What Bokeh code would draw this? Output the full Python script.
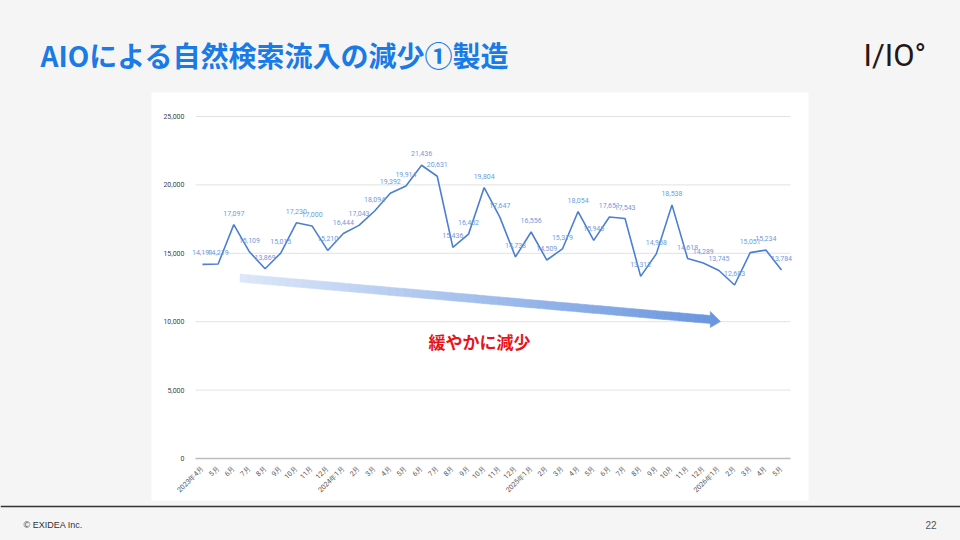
import math
from bokeh.plotting import figure
from bokeh.models import (Range1d, FixedTicker, NumeralTickFormatter, LinearAxis,
                          GlobalInlineStyleSheet)
from bokeh.core.properties import value
from bokeh.embed import file_html
from bokeh.resources import INLINE

# ---------------- data ----------------
months = ["2023年4月", "5月", "6月", "7月", "8月", "9月", "10月", "11月", "12月",
          "2024年1月", "2月", "3月", "4月", "5月", "6月", "7月", "8月", "9月", "10月", "11月", "12月",
          "2025年1月", "2月", "3月", "4月", "5月", "6月", "7月", "8月", "9月", "10月", "11月", "12月",
          "2026年1月", "2月", "3月", "4月", "5月"]
sessions = [14191, 14219, 17097, 15109, 13869, 15015, 17230, 17000, 15210,
            16444, 17043, 18094, 19392, 19914, 21436, 20631, 15436, 16402, 19804, 17647, 14738,
            16556, 14509, 15319, 18054, 15945, 17651, 17543, 13312, 14958, 18538, 14618, 14289,
            13745, 12683, 15051, 15234, 13784]
y_ticks = [0, 5000, 10000, 15000, 20000, 25000]
title_text = "AIOによる自然検索流入の減少①製造"
note_text = "緩やかに減少"
logo_text = "I/IO°"
footer_left = "© EXIDEA Inc."
page_no = "22"

# trend arrow (annotation) in chart data units
arrow_x0, arrow_y0 = 2.4, 13190
arrow_x1, arrow_y1 = 32.45, 10158
arrow_tip_x, arrow_tip_y = 33.1, 10012
arrow_c0 = (0xdd, 0xe8, 0xf9)
arrow_c1 = (0x6a, 0x96, 0xdf)

xs = list(range(len(months)))
labels = [f"{v:,}" for v in sessions]

# ---------------- layout (page pixels) ----------------
W, H = 960, 540
CH_L, CH_R, CH_T, CH_B = 195, 790, 116, 458      # chart plot area
X_LO, X_HI = -0.447, 37.575                      # chart x range
Y_LO, Y_HI = 0, 25000                            # chart y range

kx = (CH_R - CH_L) / (X_HI - X_LO)
ky = (CH_B - CH_T) / (Y_HI - Y_LO)
cx = Range1d(X_LO - CH_L / kx, X_HI + (W - CH_R) / kx)
cy = Range1d(Y_LO - (H - CH_B) / ky, Y_HI + CH_T / ky)

p = figure(width=W, height=H, output_backend="svg", toolbar_location=None,
           x_range=Range1d(0, W), y_range=Range1d(H, 0),
           x_axis_type=None, y_axis_type=None, min_border=0)
p.extra_x_ranges = {"cx": cx}
p.extra_y_ranges = {"cy": cy}
p.border_fill_color = "#f5f5f5"
p.background_fill_color = "#f5f5f5"
p.outline_line_color = None
p.xgrid.visible = False
p.ygrid.visible = False
p.stylesheets = [GlobalInlineStyleSheet(css="html, body { background: #f5f5f5; }")]

# white chart panel & footer rule
p.quad(left=151, right=808, top=92, bottom=500, fill_color="white", line_color=None)
p.quad(left=0, right=W, top=505.3, bottom=506.8, fill_color="#333333", line_color=None)

# horizontal grid lines
p.segment(x0=[X_LO] * len(y_ticks), x1=[X_HI] * len(y_ticks), y0=y_ticks, y1=y_ticks,
          line_color="#e2e2e2", line_width=1, x_range_name="cx", y_range_name="cy")

# axes
yax = LinearAxis(x_range_name="cx", y_range_name="cy", fixed_location=X_LO,
                 ticker=FixedTicker(ticks=y_ticks), formatter=NumeralTickFormatter(format="0,0"),
                 axis_line_color=None, major_tick_line_color=None, minor_tick_line_color=None,
                 major_label_text_font="Roboto", major_label_text_font_size="7px",
                 major_label_text_color="#444444", major_label_standoff=5)
p.add_layout(yax, "left")
xax = LinearAxis(x_range_name="cx", y_range_name="cy", fixed_location=Y_LO,
                 bounds=(X_LO, X_HI), ticker=FixedTicker(ticks=xs),
                 major_label_overrides={i: m for i, m in zip(xs, months)},
                 major_label_orientation=math.pi / 4,
                 axis_line_color="#bdbdbd", axis_line_width=1.6,
                 major_tick_line_color=None, minor_tick_line_color=None,
                 major_label_text_font="Roboto", major_label_text_font_size="7px",
                 major_label_text_color="#555555", major_label_standoff=3)
p.add_layout(xax, "below")

# gradient arrow
N = 60
pxs, pys, cols = [], [], []
half = 292
for i in range(N):
    t0, t1 = i / N, (i + 1) / N
    xa = arrow_x0 + (arrow_x1 - arrow_x0) * t0
    xb = arrow_x0 + (arrow_x1 - arrow_x0) * t1 + 0.02
    ya = arrow_y0 + (arrow_y1 - arrow_y0) * t0
    yb = arrow_y0 + (arrow_y1 - arrow_y0) * t1
    pxs.append([xa, xb, xb, xa])
    pys.append([ya + half, yb + half, yb - half, ya - half])
    tm = (t0 + t1) / 2
    c = tuple(round(arrow_c0[k] + (arrow_c1[k] - arrow_c0[k]) * tm) for k in range(3))
    cols.append("#%02x%02x%02x" % c)
pxs.append([arrow_x1, arrow_tip_x, arrow_x1])
pys.append([arrow_y1 + 585, arrow_tip_y, arrow_y1 - 585])
cols.append("#%02x%02x%02x" % arrow_c1)
p.patches(pxs, pys, fill_color=cols, line_color=cols, line_width=0.6,
          x_range_name="cx", y_range_name="cy")

# data line and labels
p.line(xs, sessions, line_color="#4b7fd1", line_width=1.6, x_range_name="cx", y_range_name="cy")
p.text(xs, sessions, text=labels, y_offset=-11.5, text_align="center", text_baseline="middle",
       text_font=value("Roboto"), text_font_size="7px", text_color="#6f9bdc",
       x_range_name="cx", y_range_name="cy")

# slide texts (page pixel coordinates)
def txt(x, y, s, font, size, color, style="normal", align="left"):
    p.text(x=[x], y=[y], text=[s], text_align=align, text_baseline="middle",
           text_font=value(font), text_font_size=size, text_font_style=style, text_color=color)

txt(479, 341, note_text, "Noto Sans CJK JP", "17px", "#e8141c", "bold", "center")
txt(40, 54, title_text, "Noto Sans CJK JP", "28px", "#1a7ae6", "bold")
txt(863, 55, logo_text, "Roboto", "31px", "#231815", "normal")
txt(23, 524, footer_left, "Liberation Sans", "9px", "#333333")
txt(936, 524, page_no, "Liberation Sans", "10px", "#555555", "normal", "right")

open("out.html", "w").write(file_html(p, INLINE))
